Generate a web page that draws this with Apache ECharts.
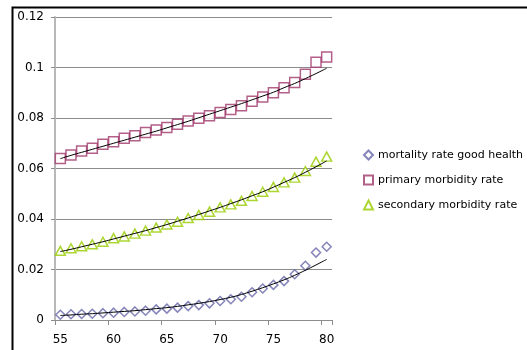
<!DOCTYPE html>
<html>
<head>
<meta charset="utf-8">
<script src="https://cdn.jsdelivr.net/npm/echarts@6/dist/echarts.min.js"></script>
<style>
html,body{margin:0;padding:0;background:#fff;}
#chart{width:527px;height:350px;}
</style>
</head>
<body>
<div id="chart"></div>
<script>
var categories = ['55','56','57','58','59','60','61','62','63','64','65','66','67','68','69','70','71','72','73','74','75','76','77','78','79','80'];
var yTicks = [0, 0.02, 0.04, 0.06, 0.08, 0.1, 0.12];

var mortality = [0.0021,0.0023,0.0024,0.0025,0.0027,0.0029,0.0032,0.0034,0.0037,0.0042,0.0045,0.0049,0.0055,0.0059,0.0066,0.0075,0.0082,0.0092,0.0110,0.0125,0.0139,0.0154,0.0181,0.0215,0.0267,0.0290];
var primary = [0.0640,0.0653,0.0669,0.0680,0.0696,0.0706,0.0720,0.0730,0.0743,0.0752,0.0762,0.0775,0.0788,0.0799,0.0809,0.0822,0.0834,0.0849,0.0866,0.0883,0.0900,0.0920,0.0941,0.0973,0.1021,0.1042];
var secondary = [0.0274,0.0284,0.0292,0.0300,0.0310,0.0324,0.0331,0.0342,0.0354,0.0366,0.0378,0.0389,0.0404,0.0416,0.0429,0.0446,0.0458,0.0472,0.0491,0.0508,0.0527,0.0545,0.0564,0.0590,0.0627,0.0647];

var mortalityTrend = [0.0018,0.0020,0.0023,0.0025,0.0028,0.0031,0.0034,0.0037,0.0041,0.0045,0.0049,0.0054,0.0060,0.0066,0.0073,0.0081,0.0090,0.0101,0.0114,0.0128,0.0143,0.0159,0.0177,0.0197,0.0218,0.0240];
var primaryTrend = [0.0639,0.0652,0.0664,0.0676,0.0688,0.0700,0.0712,0.0724,0.0736,0.0748,0.0761,0.0774,0.0787,0.0801,0.0815,0.0829,0.0843,0.0857,0.0872,0.0887,0.0902,0.0920,0.0937,0.0956,0.0976,0.0997];
var secondaryTrend = [0.0271,0.0280,0.0290,0.0300,0.0310,0.0321,0.0332,0.0343,0.0354,0.0366,0.0378,0.0391,0.0404,0.0418,0.0432,0.0446,0.0461,0.0476,0.0492,0.0508,0.0526,0.0545,0.0564,0.0585,0.0607,0.0630];

var seriesNames = ['mortality rate good health', 'primary morbidity rate', 'secondary morbidity rate'];

var FONT = 'DejaVu Sans';
var chart = echarts.init(document.getElementById('chart'), null, {renderer: 'canvas'});

function trend(data) {
  return {
    type: 'line', data: data, smooth: true, symbol: 'none', silent: true, z: 5,
    lineStyle: {color: '#000', width: 1}, animation: false
  };
}

chart.setOption({
  animation: false,
  backgroundColor: '#fff',
  graphic: [{
    type: 'rect', silent: true, z: 100,
    shape: {x: 12.5, y: 7.5, width: 600, height: 500},
    style: {fill: 'none', stroke: '#000', lineWidth: 2}
  }],
  grid: {left: 55, top: 17, width: 277, height: 303, containLabel: false},
  legend: {
    orient: 'vertical', left: 358, top: 143, itemWidth: 9, itemHeight: 9, itemGap: 11, itemTextGap: 5,
    data: seriesNames,
    textStyle: {fontFamily: FONT, fontSize: 11, color: '#000', lineHeight: 14}
  },
  xAxis: {
    type: 'category', data: categories, boundaryGap: true,
    axisLine: {lineStyle: {color: '#8c8c8c', width: 1}},
    axisTick: {show: true, interval: 4, alignWithLabel: false, length: 5, lineStyle: {color: '#8c8c8c'}},
    axisLabel: {interval: 4, margin: 14, fontFamily: FONT, fontSize: 12, color: '#000'},
    splitLine: {show: false}
  },
  yAxis: {
    type: 'value', min: yTicks[0], max: yTicks[yTicks.length - 1], interval: 0.02,
    axisLine: {show: true, lineStyle: {color: '#b8b8b8', width: 2}},
    axisTick: {show: true, length: 4, lineStyle: {color: '#8c8c8c'}},
    axisLabel: {margin: 11, fontFamily: FONT, fontSize: 12, color: '#000'},
    splitLine: {show: true, lineStyle: {color: '#8c8c8c', width: 1}}
  },
  series: [
    {name: seriesNames[0], type: 'scatter', data: mortality, symbol: 'diamond', symbolSize: 9, z: 3,
     itemStyle: {color: '#fff', borderColor: '#6767a8', borderWidth: 1.5}},
    {name: seriesNames[1], type: 'scatter', data: primary, symbol: 'rect', symbolSize: 10, z: 3,
     itemStyle: {color: '#fff', borderColor: '#a0386c', borderWidth: 1.5}},
    {name: seriesNames[2], type: 'scatter', data: secondary, symbol: 'triangle', symbolSize: [10, 9], z: 3,
     itemStyle: {color: '#fff', borderColor: '#99cc00', borderWidth: 1.5}},
    trend(mortalityTrend),
    trend(primaryTrend),
    trend(secondaryTrend)
  ]
});
</script>
</body>
</html>
